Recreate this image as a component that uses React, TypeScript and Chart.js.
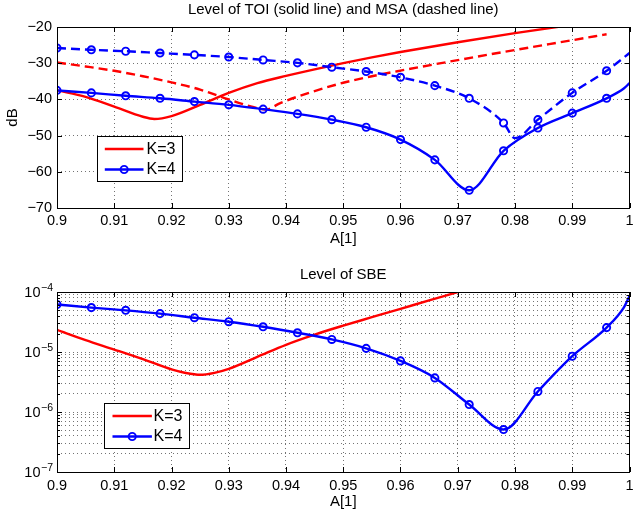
import React, { useEffect, useRef } from 'react';
import { Chart, registerables } from 'chart.js';

Chart.register(...registerables);

const FONT = "'Liberation Sans', Arial, Helvetica, sans-serif";
const RED = '#ff0000';
const BLUE = '#0000ff';

// ---------- Top chart: TOI (solid) and MSA (dashed), dB ----------
const toiK3A = [0.9, 0.905, 0.91, 0.915, 0.917, 0.92, 0.925, 0.93, 0.935, 0.94, 0.945, 0.95, 0.955, 0.96, 0.97, 0.98, 0.99];
const toiK3dB = [-37.5, -39.3, -42.0, -44.8, -45.4, -44.6, -41.5, -38.2, -35.5, -33.5, -31.7, -30.0, -28.4, -26.9, -24.2, -21.7, -19.4];

const msaK3A = [0.9, 0.905, 0.91, 0.915, 0.92, 0.925, 0.93, 0.934, 0.9365, 0.939, 0.944, 0.95, 0.955, 0.96, 0.97, 0.98, 0.99, 0.996];
const msaK3dB = [-29.8, -30.9, -32.1, -33.6, -35.3, -37.3, -40.0, -42.0, -42.8, -41.0, -38.2, -35.4, -33.6, -32.05, -29.15, -26.35, -23.65, -22.0];

const markerA = [0.9, 0.906, 0.912, 0.918, 0.924, 0.93, 0.936, 0.942, 0.948, 0.954, 0.96, 0.966, 0.972, 0.978, 0.984, 0.99, 0.996];

const toiK4A = [0.9, 0.906, 0.912, 0.918, 0.924, 0.93, 0.936, 0.942, 0.948, 0.954, 0.96, 0.966, 0.972, 0.978, 0.984, 0.99, 0.996, 0.999, 1.0];
const toiK4dB = [-37.5, -38.2, -39.0, -39.7, -40.6, -41.5, -42.7, -44.0, -45.6, -47.7, -51.1, -56.7, -65.1, -54.2, -47.9, -43.8, -39.7, -37.0, -35.5];

const msaK4A = [0.9, 0.906, 0.912, 0.918, 0.924, 0.93, 0.936, 0.942, 0.948, 0.954, 0.96, 0.966, 0.972, 0.978, 0.98, 0.984, 0.99, 0.996, 1.0];
const msaK4dB = [-25.8, -26.3, -26.7, -27.2, -27.7, -28.3, -29.1, -29.9, -31.1, -32.3, -33.9, -36.2, -39.7, -46.5, -50.7, -45.6, -38.2, -32.1, -27.2];

// ---------- Bottom chart: SBE (log) ----------
const sbeK3A = [0.9, 0.905, 0.91, 0.915, 0.92, 0.9225, 0.925, 0.9275, 0.93, 0.935, 0.94, 0.945, 0.95, 0.955, 0.96, 0.965, 0.97, 0.975];
const sbeK3 = [2.34e-5, 1.58e-5, 1.1e-5, 7.6e-6, 5.13e-6, 4.47e-6, 4.17e-6, 4.5e-6, 5.25e-6, 8.3e-6, 1.32e-5, 1.95e-5, 2.75e-5, 3.8e-5, 5.25e-5, 7.24e-5, 1.0e-4, 1.38e-4];

const sbeK4A = [0.9, 0.906, 0.912, 0.918, 0.924, 0.93, 0.936, 0.942, 0.948, 0.954, 0.96, 0.966, 0.972, 0.978, 0.984, 0.99, 0.996, 0.999, 1.0];
const sbeK4 = [6.2e-5, 5.5e-5, 4.95e-5, 4.36e-5, 3.73e-5, 3.2e-5, 2.63e-5, 2.09e-5, 1.62e-5, 1.15e-5, 7.1e-6, 3.7e-6, 1.33e-6, 5.1e-7, 2.2e-6, 8.5e-6, 2.55e-5, 5.5e-5, 8.6e-5];

// ---------- Axes ----------
const xMin = 0.9;
const xMax = 1.0;
const xStep = 0.01;
const dbMin = -70;
const dbMax = -20;
const dbStep = 10;
const logDecades = [-7, -6, -5, -4];
const logMultiples = [1, 2, 3, 4, 5, 6, 7, 8, 9];

const legendLabels = ['K=3', 'K=4'];
const topTitle = 'Level of TOI (solid line) and MSA (dashed line)';
const bottomTitle = 'Level of SBE';
const xTitle = 'A[1]';
const yTitleTop = 'dB';

const pts = (xs: number[], ys: number[]) => xs.map((x, i) => ({ x, y: ys[i] }));
const radii = (xs: number[]) => xs.map((x) => (markerA.includes(x) ? 3.6 : 0));

function lineDs(xs: number[], ys: number[], color: string, dashed: boolean, markers: boolean, legend?: string) {
  return {
    data: pts(xs, ys),
    borderColor: color,
    backgroundColor: color,
    borderWidth: 2.4,
    borderDash: dashed ? [9, 5] : [],
    cubicInterpolationMode: 'monotone',
    fill: false,
    clip: 0,
    pointRadius: markers ? radii(xs) : 0,
    pointHoverRadius: 0,
    pointStyle: 'circle',
    pointBorderColor: color,
    pointBackgroundColor: 'rgba(0,0,0,0)',
    pointBorderWidth: 1.9,
    legendText: legend,
    hasMarkers: markers,
  } as any;
}

const tickFont = { family: FONT, size: 14.5 };

function fmtX(v: any) {
  return String(Number(Number(v).toFixed(2)));
}

function makeDecor(cfg: {
  title: string;
  titleDy: number;
  logY: boolean;
  legend: { dx: number; dy: number; w: number; h: number; rows: number[]; lx0: number; lx1: number; tx: number };
}) {
  return {
    id: 'decor',
    afterDraw(chart: any) {
      const { ctx, chartArea: a, scales } = chart;
      const xs = scales.x;
      const ys = scales.y;
      ctx.save();
      // inner ticks
      ctx.strokeStyle = '#000';
      ctx.lineWidth = 1;
      ctx.setLineDash([]);
      ctx.beginPath();
      xs.ticks.forEach((t: any) => {
        const px = Math.round(xs.getPixelForValue(t.value)) + 0.5;
        ctx.moveTo(px, a.bottom);
        ctx.lineTo(px, a.bottom - 5);
        ctx.moveTo(px, a.top);
        ctx.lineTo(px, a.top + 5);
      });
      ys.ticks.forEach((t: any) => {
        const py = Math.round(ys.getPixelForValue(t.value)) + 0.5;
        let len = 5;
        if (cfg.logY) {
          const e = Math.round(Math.log10(t.value));
          if (Math.abs(t.value - Math.pow(10, e)) / Math.pow(10, e) > 1e-6) len = 3;
        }
        ctx.moveTo(a.left, py);
        ctx.lineTo(a.left + len, py);
        ctx.moveTo(a.right, py);
        ctx.lineTo(a.right - len, py);
      });
      ctx.stroke();
      // frame
      ctx.strokeRect(Math.round(a.left) + 0.5, Math.round(a.top) + 0.5, Math.round(a.right - a.left) - 1, Math.round(a.bottom - a.top));

      // log labels
      ctx.fillStyle = '#000';
      if (cfg.logY) {
        ys.ticks.forEach((t: any) => {
          const e = Math.round(Math.log10(t.value));
          if (Math.abs(t.value - Math.pow(10, e)) / Math.pow(10, e) > 1e-6) return;
          const py = ys.getPixelForValue(t.value);
          ctx.font = `14.5px ${FONT}`;
          ctx.textAlign = 'right';
          ctx.textBaseline = 'alphabetic';
          ctx.fillText('10', 40.5, py + 5);
          ctx.font = `10.5px ${FONT}`;
          ctx.textAlign = 'left';
          ctx.fillText('\u2212' + Math.abs(e), 41, py - 1);
        });
      }

      // title
      ctx.font = `15px ${FONT}`;
      ctx.textAlign = 'center';
      ctx.textBaseline = 'middle';
      ctx.fillText(cfg.title, (a.left + a.right) / 2, a.top + cfg.titleDy);

      // legend
      const L = cfg.legend;
      const bx = Math.round(a.left + L.dx) + 0.5;
      const by = Math.round(a.top + L.dy) + 0.5;
      ctx.fillStyle = '#fff';
      ctx.fillRect(bx, by, L.w, L.h);
      ctx.strokeStyle = '#000';
      ctx.lineWidth = 1;
      ctx.strokeRect(bx, by, L.w, L.h);
      const items = chart.data.datasets.filter((d: any) => d.legendText);
      items.sort((p: any, q: any) => legendLabels.indexOf(p.legendText) - legendLabels.indexOf(q.legendText));
      items.forEach((d: any, i: number) => {
        const ry = by + L.rows[i];
        ctx.strokeStyle = d.borderColor;
        ctx.lineWidth = d.borderWidth;
        ctx.beginPath();
        ctx.moveTo(bx + L.lx0, ry);
        ctx.lineTo(bx + L.lx1, ry);
        ctx.stroke();
        if (d.hasMarkers) {
          ctx.lineWidth = d.pointBorderWidth;
          ctx.beginPath();
          ctx.arc(bx + (L.lx0 + L.lx1) / 2, ry, 3.6, 0, Math.PI * 2);
          ctx.stroke();
        }
        ctx.fillStyle = '#000';
        ctx.font = `16px ${FONT}`;
        ctx.textAlign = 'left';
        ctx.textBaseline = 'middle';
        ctx.fillText(d.legendText, bx + L.tx, ry + 0.5);
      });
      ctx.restore();
    },
  };
}

const gridCommon = { color: 'rgba(0,0,0,0.55)', lineWidth: 1, drawTicks: false };
const borderCommon = { display: false, dash: [1, 3] };

function xScale(height: number, titleBottomPad: number, tickPad: number) {
  return {
    type: 'linear',
    min: xMin,
    max: xMax,
    ticks: { stepSize: xStep, callback: fmtX, font: tickFont, color: '#000', padding: tickPad, maxRotation: 0, autoSkip: false },
    grid: gridCommon,
    border: borderCommon,
    title: { display: true, text: xTitle, font: { family: FONT, size: 15 }, color: '#000', padding: { top: 0, bottom: titleBottomPad } },
    afterFit(s: any) {
      s.height = height;
      s.paddingLeft = 0;
      s.paddingRight = 0;
    },
  } as any;
}

export default function App() {
  const topRef = useRef<HTMLCanvasElement>(null);
  const botRef = useRef<HTMLCanvasElement>(null);

  useEffect(() => {
    const top = new Chart(topRef.current as HTMLCanvasElement, {
      type: 'line',
      data: {
        datasets: [
          lineDs(toiK4A, toiK4dB, BLUE, false, true, 'K=4'),
          lineDs(msaK4A, msaK4dB, BLUE, true, true),
          lineDs(toiK3A, toiK3dB, RED, false, false, 'K=3'),
          lineDs(msaK3A, msaK3dB, RED, true, false),
        ],
      },
      options: {
        animation: false,
        responsive: false,
        events: [],
        layout: { padding: { top: 27, right: 1, left: 0, bottom: 0 } },
        plugins: { legend: { display: false }, tooltip: { enabled: false }, title: { display: false } },
        scales: {
          x: xScale(42, 2, 4),
          y: {
            type: 'linear',
            min: dbMin,
            max: dbMax,
            ticks: {
              stepSize: dbStep,
              font: tickFont,
              color: '#000',
              padding: 5,
              callback: (v: any) => (Number(v) < 0 ? '\u2212' + Math.abs(Number(v)) : String(v)),
            },
            grid: gridCommon,
            border: borderCommon,
            title: { display: true, text: yTitleTop, font: { family: FONT, size: 15 }, color: '#000', padding: { top: 4, bottom: 0 } },
            afterFit(s: any) {
              s.width = 57;
              s.paddingTop = 0;
              s.paddingBottom = 0;
            },
          } as any,
        },
      },
      plugins: [
        makeDecor({
          title: topTitle,
          titleDy: -17,
          logY: false,
          legend: { dx: 40, dy: 109, w: 85, h: 45, rows: [12.5, 33], lx0: 7.3, lx1: 46, tx: 49 },
        }) as any,
      ],
    } as any);

    const logTicks: number[] = [];
    logDecades.forEach((e, i) => {
      logMultiples.forEach((m) => {
        if (i === logDecades.length - 1 && m > 1) return;
        logTicks.push(m * Math.pow(10, e));
      });
    });

    const bot = new Chart(botRef.current as HTMLCanvasElement, {
      type: 'line',
      data: {
        datasets: [
          lineDs(sbeK4A, sbeK4, BLUE, false, true, 'K=4'),
          lineDs(sbeK3A, sbeK3, RED, false, false, 'K=3'),
        ],
      },
      options: {
        animation: false,
        responsive: false,
        events: [],
        layout: { padding: { top: 42, right: 1, left: 0, bottom: 0 } },
        plugins: { legend: { display: false }, tooltip: { enabled: false }, title: { display: false } },
        scales: {
          x: xScale(43, 4, 5),
          y: {
            type: 'logarithmic',
            min: 1e-7,
            max: 1e-4,
            afterBuildTicks(s: any) {
              s.ticks = logTicks.map((v) => ({ value: v }));
            },
            ticks: { font: tickFont, color: '#000', padding: 5, autoSkip: false, callback: () => '' },
            grid: gridCommon,
            border: borderCommon,
            afterFit(s: any) {
              s.width = 57;
              s.paddingTop = 0;
              s.paddingBottom = 0;
            },
          } as any,
        },
      },
      plugins: [
        makeDecor({
          title: bottomTitle,
          titleDy: -17,
          logY: true,
          legend: { dx: 47, dy: 110.5, w: 85, h: 45, rows: [12.5, 33], lx0: 8, lx1: 47.4, tx: 49 },
        }) as any,
      ],
    } as any);

    return () => {
      top.destroy();
      bot.destroy();
    };
  }, []);

  return (
    <div style={{ position: 'absolute', left: 0, top: 0, width: 635, height: 515, background: '#fff' }}>
      <canvas ref={topRef} width={635} height={250} style={{ position: 'absolute', left: 0, top: 0, width: 635, height: 250 }} />
      <canvas ref={botRef} width={635} height={265} style={{ position: 'absolute', left: 0, top: 250, width: 635, height: 265 }} />
    </div>
  );
}
